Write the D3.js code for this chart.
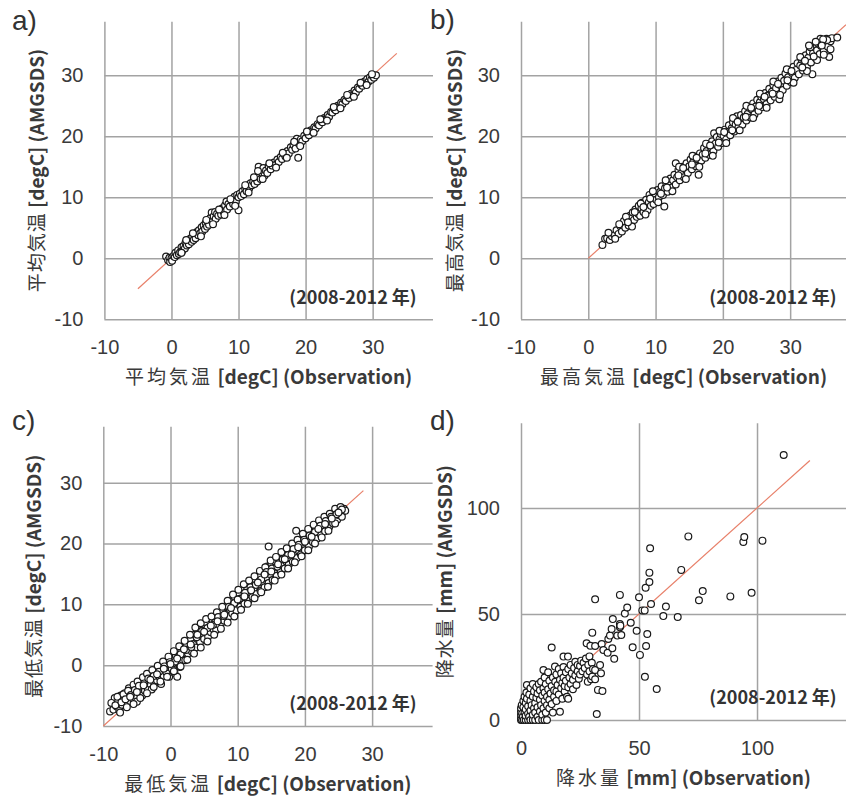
<!DOCTYPE html>
<html>
<head>
<meta charset="utf-8">
<script src="https://cdn.jsdelivr.net/npm/d3@7"></script>
<style>
  body { margin: 0; background: #fff; }
  svg { display: block; }
</style>
</head>
<body>
<svg id="chart" width="846" height="796"></svg>
<script>
// a) mean temperature [obs, model]
const meanPts = [
  [-0.8,0.3],[-0.5,-0.3],[-0.3,0.1],[-0.2,-0.6],[0,0],[0.1,-0.4],[0.3,0.4],[0.5,0.2],[0.6,0.9],[0.8,0.5],
  [1.0,1.3],[1.1,0.7],[1.3,1.0],[1.5,1.8],[1.6,1.2],[1.8,2.0],[2.0,1.6],[2.1,2.6],[2.3,2.1],[2.5,2.9],
  [2.6,2.3],[2.8,3.2],[3.0,2.7],[3.1,3.5],[3.3,3.0],[3.5,4.0],[3.6,3.3],[3.8,4.3],[4.0,3.8],[4.1,4.6],
  [4.3,4.1],[4.5,5.1],[4.6,4.4],[4.8,5.4],[5.0,4.8],[5.1,5.8],[5.3,5.2],[5.5,6.2],[5.6,5.5],[5.8,6.6],
  [6.0,7.5],[6.1,6.0],[6.3,6.9],[6.5,7.6],[6.6,6.5],[6.8,7.3],[7.0,7.0],[7.2,7.8],[7.4,7.2],[7.6,8.2],
  [7.8,7.6],[8.0,8.7],[8.2,9.3],[8.3,8.0],[8.5,8.9],[8.7,8.5],[9.0,9.4],[9.2,8.9],[9.4,10.1],[9.6,9.3],
  [9.8,10.4],[10.0,7.9],[10.0,10.0],[10.2,10.6],[10.4,10.2],[10.6,11.0],[10.8,10.5],[11.0,11.4],[11.2,11.0],[11.4,12.0],
  [11.6,11.5],[11.8,12.3],[12.0,12.0],[12.2,12.6],[12.4,12.2],[12.6,13.1],[12.8,12.6],[13.0,15.0],[13.1,13.4],[13.3,13.0],
  [13.5,14.0],[13.7,14.8],[13.9,13.6],[14.1,14.4],[14.3,14.0],[14.5,15.1],[14.8,14.6],[15.0,15.2],[15.3,15.7],[15.5,15.3],
  [15.8,16.2],[16.0,15.8],[16.3,16.6],[16.5,16.3],[16.8,17.1],[17.0,16.7],[17.3,17.6],[17.5,17.2],[17.8,18.2],[18.0,17.8],
  [18.2,18.6],[18.5,18.0],[18.7,19.6],[18.9,16.5],[19.0,18.8],[19.3,19.5],[19.5,19.2],[19.8,20.1],[20.0,19.7],[20.3,20.5],
  [20.5,20.2],[20.8,21.0],[21.0,20.8],[21.3,21.5],[21.5,21.3],[21.8,22.0],[22.0,21.8],[22.3,22.5],[22.5,22.3],[22.8,23.0],
  [23.0,22.8],[23.3,23.5],[23.5,23.2],[23.8,24.0],[24.0,23.9],[24.3,24.5],[24.5,24.3],[24.8,25.0],[25.0,24.8],[25.3,25.5],
  [25.5,25.3],[25.8,26.0],[26.0,25.8],[26.3,26.5],[26.5,26.3],[26.8,27.0],[27.0,26.8],[27.3,27.5],[27.5,27.2],[27.8,28.0],
  [28.0,27.8],[28.3,28.5],[28.5,28.3],[28.8,29.0],[29.0,28.7],[29.2,29.4],[29.4,29.0],[29.6,29.7],[29.8,29.3],[30.0,29.9],
  [30.2,29.6],[30.5,30.0],
  [1.5,0.9],[2.2,3.0],[3.2,4.1],[4.4,3.6],[5.2,6.3],[6.2,5.6],[7.1,8.0],[7.9,7.1],[8.8,9.7],[9.5,8.6],
  [11.0,12.0],[11.5,10.8],[12.3,13.3],[12.9,14.3],[13.6,13.0],[14.6,15.6],[15.6,14.9],[16.6,17.3],[17.2,16.5],[18.3,19.1],
  [19.2,18.4],[20.2,20.8],[21.2,20.6],[22.2,22.8],[23.2,22.6],[24.2,24.8],[25.2,24.6],[26.2,26.8],[27.2,26.5],[28.2,28.8],
  [29.1,28.4],[29.9,30.2]
];

// b) maximum temperature [obs, model]
const maxPts = [
  [2.1,2.2],[2.5,3.2],[2.8,3.3],[3.2,3.0],[3.5,3.6],[3.9,3.8],[4.2,4.6],[4.5,4.0],[4.8,5.2],[5.0,4.4],
  [5.3,6.1],[5.5,5.0],[5.8,6.4],[6.0,5.4],[6.2,7.0],[6.4,5.9],[6.6,7.5],[6.8,6.3],[7.0,8.0],[7.2,6.8],
  [7.4,7.3],[7.5,8.6],[7.7,7.0],[7.9,8.2],[8.0,9.1],[8.2,7.6],[8.4,8.7],[8.6,9.6],[8.8,7.9],[9.0,9.2],
  [9.1,10.4],[9.3,8.6],[9.5,9.9],[9.7,8.9],[9.9,10.6],[10.1,9.6],[10.3,11.2],[10.5,10.0],[10.7,10.9],[10.9,11.8],
  [11.1,10.4],[11.3,8.5],[11.4,11.5],[11.6,12.3],[11.8,10.9],[12.0,12.0],[12.2,13.1],[12.4,11.6],[12.6,12.8],[12.8,13.7],
  [13.0,15.6],[13.0,12.1],[13.2,13.3],[13.4,14.5],[13.6,12.8],[13.8,13.9],[14.0,15.0],[14.2,13.3],[14.4,14.6],[14.6,15.6],
  [14.8,14.0],[15.0,15.1],[15.2,16.2],[15.4,14.6],[15.6,15.8],[15.8,16.7],[16.0,15.1],[16.2,16.3],[16.4,13.7],[16.6,17.2],
  [16.8,16.0],[17.0,17.0],[17.2,18.1],[17.4,16.5],[17.6,17.6],[17.8,18.7],[18.0,17.0],[18.2,18.2],[18.4,19.2],[18.6,17.6],
  [18.7,20.5],[18.9,18.8],[19.1,19.9],[19.3,18.3],[19.5,19.5],[19.7,20.4],[19.9,18.9],[20.1,20.1],[20.3,21.1],[20.5,19.5],
  [20.7,20.7],[20.9,21.8],[21.1,20.2],[21.3,21.3],[21.5,22.3],[21.7,20.8],[21.9,21.9],[22.1,23.3],[22.3,21.4],[22.5,22.6],
  [22.7,23.5],[22.9,21.9],[23.1,23.1],[23.3,24.1],[23.5,22.6],[23.7,23.7],[23.9,24.7],[24.1,23.1],[24.3,24.4],[24.5,25.4],
  [24.7,23.6],[24.9,24.9],[25.1,26.0],[25.3,24.2],[25.5,25.6],[25.7,26.5],[25.9,24.8],[26.1,26.1],[26.3,27.1],[26.5,25.3],
  [26.7,26.7],[26.9,27.8],[27.1,25.9],[27.3,27.3],[27.5,28.4],[27.7,26.5],[27.9,27.9],[28.1,29.0],[28.4,26.1],[28.5,28.4],
  [28.7,29.6],[28.9,27.6],[29.1,29.1],[29.3,30.3],[29.5,28.3],[29.7,29.7],[29.9,30.9],[30.1,28.9],[30.3,30.4],[30.5,31.4],
  [30.7,29.6],[30.9,30.9],[31.1,32.0],[31.3,30.2],[31.5,31.6],[31.7,32.6],[31.9,30.8],[32.1,32.3],[32.3,33.3],[32.5,31.4],
  [32.7,32.9],[32.9,33.9],[33.1,32.1],[33.3,30.2],[33.4,33.6],[33.6,34.6],[33.8,32.8],[34.0,34.1],[34.2,35.2],[34.4,33.5],
  [34.6,34.8],[34.8,35.6],[35.0,34.0],[35.2,35.4],[35.4,36.0],[35.6,34.7],[35.8,33.0],[36.0,35.6],[36.2,36.1],[37.0,36.2],
  [3.0,4.2],[4.0,3.2],[5.6,6.8],[6.5,5.2],[7.8,9.0],[8.5,7.2],[9.6,11.0],[10.4,9.2],[11.5,12.8],[12.5,11.0],
  [13.5,15.0],[14.5,13.0],[15.5,16.8],[16.5,15.0],[17.5,18.8],[18.5,16.8],[19.5,20.9],[20.5,18.9],[21.5,23.0],[22.5,21.0],
  [23.5,25.0],[24.5,23.0],[25.5,27.0],[26.5,24.7],[27.5,29.0],[28.5,26.8],[29.5,31.0],[30.5,28.8],[31.5,33.0],[32.5,30.7],
  [33.0,34.6],[34.0,32.5],[34.5,36.0],[35.0,33.4],[35.5,35.8],[36.0,34.3],[33.8,35.5],[34.9,35.9],[32.8,34.9],
  [4.6,5.6],[6.9,7.6],[9.2,9.8],[11.7,11.6],[14.1,14.8],[16.1,16.5],[18.1,18.5],[20.2,20.7],[22.2,22.4],[24.2,24.7],
  [26.2,26.5],[28.2,28.6],[30.2,30.7],[32.2,32.4],[33.5,33.1],[34.7,34.9],[31.8,31.3],[29.6,29.2],[27.4,27.0],[25.4,25.0],
  [23.4,23.2],[21.4,21.0],[19.4,19.0],[17.4,17.2],[15.4,15.4],[13.4,13.6],[10.8,10.6],[8.2,8.4],[5.9,5.9]
];

// c) minimum temperature [obs, model]
const minPts = [
  [-9.0,-7.6],[-8.5,-7.3],[-8.3,-5.4],[-8.0,-6.8],[-7.8,-6.0],[-7.6,-7.4],[-7.4,-5.0],[-7.2,-6.5],[-7.0,-5.7],[-6.8,-4.6],
  [-6.6,-6.3],[-6.4,-5.2],[-6.2,-3.8],[-6.0,-5.9],[-5.8,-4.5],[-5.6,-5.5],[-5.4,-3.6],[-5.2,-4.9],[-5.0,-6.0],[-4.8,-3.9],
  [-4.6,-4.6],[-4.4,-2.9],[-4.2,-5.0],[-4.0,-3.5],[-3.8,-4.2],[-3.6,-2.6],[-3.4,-3.8],[-3.2,-1.6],[-3.0,-3.1],[-2.8,-4.0],
  [-2.6,-2.2],[-2.4,-3.0],[-2.2,-1.4],[-2.0,-2.5],[-1.8,-0.9],[-1.6,-2.0],[-1.4,-3.1],[-1.2,-1.0],[-1.0,-1.8],[-0.8,0.2],
  [-0.6,-1.2],[-0.4,-0.3],[-0.2,-1.9],[0.0,0.9],[0.2,-0.6],[0.4,0.3],[0.6,-1.3],[0.8,1.6],[1.0,-1.9],[1.0,0.5],
  [1.2,1.2],[1.4,-0.3],[1.6,2.3],[1.8,0.9],[2.0,2.0],[2.2,0.8],[2.4,3.2],[2.6,1.9],[2.8,2.7],[3.0,4.3],
  [3.2,2.2],[3.4,3.5],[3.6,5.0],[3.8,2.9],[4.0,4.3],[4.2,6.0],[4.4,3.8],[4.6,5.0],[4.8,6.6],[5.0,4.3],
  [5.2,5.6],[5.4,6.9],[5.6,4.7],[5.8,6.3],[6.0,5.4],[6.2,7.5],[6.4,5.9],[6.6,7.0],[6.8,5.8],[7.0,7.8],
  [7.2,6.7],[7.4,8.4],[7.6,7.0],[7.8,8.9],[8.0,7.3],[8.2,8.4],[8.4,9.8],[8.6,7.9],[8.8,9.2],[9.0,10.5],
  [9.2,8.5],[9.4,9.8],[9.6,11.1],[9.8,9.0],[10.0,10.3],[10.2,11.7],[10.4,9.6],[10.6,11.0],[10.8,12.3],[11.0,10.1],
  [11.2,11.5],[11.4,12.8],[11.6,10.6],[11.8,12.0],[12.0,13.2],[12.2,11.2],[12.4,12.6],[12.6,13.8],[12.8,11.7],[13.0,13.1],
  [13.2,14.6],[13.4,12.2],[13.6,13.7],[13.8,15.4],[14.0,12.8],[14.2,14.4],[14.4,16.2],[14.6,19.5],[14.6,13.5],[14.8,15.0],
  [15.0,16.7],[15.2,14.0],[15.4,15.5],[15.6,17.0],[15.8,14.7],[16.0,16.1],[16.2,17.5],[16.4,15.3],[16.6,16.6],[16.8,18.0],
  [17.0,15.9],[17.2,17.1],[17.4,18.4],[17.6,16.5],[17.8,17.7],[18.0,19.0],[18.2,17.0],[18.4,18.3],[18.6,19.6],[18.7,22.1],
  [18.8,17.6],[19.0,18.9],[19.2,20.3],[19.4,18.2],[19.6,19.5],[19.8,21.0],[20.0,18.9],[20.2,20.1],[20.4,21.5],[20.6,19.5],
  [20.8,20.7],[21.0,22.1],[21.2,20.2],[21.4,21.3],[21.6,22.6],[21.8,20.8],[22.0,21.9],[22.2,23.1],[22.4,21.4],[22.6,22.5],
  [22.8,23.6],[23.0,22.0],[23.2,23.1],[23.4,24.1],[23.6,22.7],[23.8,23.6],[24.0,24.9],[24.2,23.3],[24.4,24.2],[24.6,25.1],
  [24.8,23.9],[25.0,24.7],[25.2,25.5],[25.4,24.6],[25.6,25.2],[25.8,25.7],[26.0,25.4],
  [-8.8,-6.2],[-7.9,-5.2],[-7.0,-4.8],[-6.3,-4.2],[-5.5,-3.2],[-4.9,-2.7],[-4.1,-2.0],[-3.5,-1.4],[-2.7,-0.8],[-1.9,-0.1],
  [-1.1,0.6],[-0.3,1.4],[0.5,2.3],[1.3,3.1],[2.1,4.0],[2.9,5.0],[3.7,6.2],[4.5,6.9],[5.3,7.6],[6.1,8.0],
  [6.9,8.7],[7.7,9.6],[8.5,10.6],[9.3,11.6],[10.1,12.4],[10.9,13.3],[11.7,13.9],[12.5,14.6],[13.3,15.5],[14.1,16.1],
  [14.9,17.2],[15.7,17.8],[16.5,18.6],[17.3,19.2],[18.1,20.0],[18.9,20.6],[19.7,21.6],[20.5,22.4],[21.3,23.1],[22.1,23.8],
  [22.9,24.4],[23.7,24.9],[24.5,25.7],[25.3,26.0],
  [-7.5,-7.8],[-6.5,-6.9],[-5.5,-6.4],[-4.5,-5.4],[-3.5,-4.6],[-2.5,-3.6],[-1.5,-2.7],[-0.5,-1.9],[0.5,-1.0],[1.5,-0.2],
  [2.5,0.9],[3.5,1.9],[4.5,2.9],[5.5,3.9],[6.5,5.0],[7.5,6.0],[8.5,7.0],[9.5,8.0],[10.5,9.1],[11.5,10.1],
  [12.5,11.0],[13.5,12.0],[14.5,12.9],[15.5,13.9],[16.5,14.9],[17.5,15.9],[18.5,16.9],[19.5,17.9],[20.5,18.9],[21.5,20.0],
  [22.5,21.0],[23.5,22.1],[24.5,23.3],[25.5,24.4],
  [-8.2,-6.6],[-7.3,-6.1],[-6.7,-5.6],[-5.9,-4.9],[-5.3,-4.1],[-4.7,-3.4],[-3.9,-3.0],[-3.3,-2.2],[-2.5,-1.8],[-1.7,-1.1],
  [-0.9,-0.2],[-0.1,0.5],[0.7,0.6],[1.5,1.8],[2.3,2.5],[3.1,3.0],[3.9,4.6],[4.7,5.6],[5.5,6.1],[6.3,6.6],
  [7.1,7.9],[7.9,8.1],[8.7,9.6],[9.5,10.2],[10.3,10.9],[11.1,11.9],[11.9,12.8],[12.7,13.2],[13.5,14.1],[14.3,15.3],
  [15.1,15.9],[15.9,16.2],[16.7,17.4],[17.5,18.1],[18.3,19.1],[19.1,19.8],[19.9,20.6],[20.7,21.3],[21.5,21.9],[22.3,22.9],
  [23.1,23.7],[23.9,24.4],[24.7,24.8],[25.5,25.6],
  [-6.0,-5.2],[-5.0,-4.4],[-4.0,-3.3],[-3.0,-2.4],[-2.0,-1.5],[-1.0,-0.6],[0.0,0.2],[1.0,1.1],[2.0,2.6],[3.0,3.4],
  [4.0,5.0],[5.0,5.5],[6.0,6.5],[7.0,7.2],[8.0,8.3],[9.0,9.4],[10.0,10.8],[11.0,11.3],[12.0,12.3],[13.0,13.6],
  [14.0,14.9],[15.0,15.4],[16.0,16.6],[17.0,17.4],[18.0,18.2],[19.0,19.4],[20.0,20.3],[21.0,21.1],[22.0,22.4],[23.0,23.2],
  [24.0,24.1],[25.0,25.1]
];

// d) precipitation [obs, model]
const rainPts = [
  [0,0],[0,1],[0,2.5],[0,4],[0,5.5],[0.3,7],[0.5,3],[0.5,0],[0.8,1.5],[1,9],[1,6],[1.2,0],[1.5,3.5],[1.5,11],
  [2,0],[2,2],[2,5],[2,8],[2.3,13],[2.5,16.5],[2.5,10],[3,0],[3,3],[3,6.5],[3.5,12],[3.5,1.5],[4,0],[4,4.5],
  [4,9],[4,15],[4.5,7],[5,0],[5,2.5],[5,11],[5,17],[5.5,5.5],[5.5,13.5],[6,0],[6,8],[6,3.5],[6.5,15.5],[6.5,10.5],
  [7,1.5],[7,6],[7,12.5],[7.5,17],[7.5,0],[8,4],[8,9.5],[8,14],[8.5,7],[8.5,18],[9,0],[9,11.5],[9,2.5],[9.5,15],
  [9.5,5.5],[9.5,23.6],[10,0],[10,9],[10,13],[10,20],[10.5,3.5],[10.5,17],[11,0],[11,7],[11,11],[11.5,14.5],[11.5,22.5],
  [12,5.5],[12,9.5],[12,18.5],[12.5,12.5],[13,16],[13,7.5],[13,34.2],[13.5,20],[13.5,3.5],[14,11],[14,14],[14.4,25.2],
  [14.5,18],[15,9],[15,21.5],[15,13.5],[15.5,16.5],[16,12],[16,24],[16.5,19],[16.5,3.9],[17,15],[17,22],[17.5,10],
  [17.5,17.5],[18,20],[18,25],[18,29.9],[18.5,13.5],[18.5,16],[19,22.5],[19,18.5],[19.9,29.9],[19.5,11],[20,24],
  [20,15.5],[20,10],[20.5,20],[21,17],[21,26],[21.5,22],[22,14.5],[22,19],[22.5,24.5],[23,21],[23,27.5],[23.5,16.5],
  [24,23],[24,26],[24.5,19.5],[25,25.5],[25,21.5],[25.5,28],[26,23],[26.5,27],[27,24.5],[27.5,29],[27.8,36.2],
  [28,21.5],[28.3,18.1],[28.5,26],[29,23],[29,30],[29.4,35],[29.7,19.2],[30,27],[30.2,20.5],[30.2,41.2],[30.5,24],
  [31.4,23.6],[31.4,19.2],[31.4,34.9],[31.4,56.9],[32.1,2.8],[32.6,14.2],[33.5,25.9],[33.9,22],[34.2,35.8],[34.5,13.7],
  [34.9,33],[36.7,31.7],[37,38.2],[37.7,39.8],[38.4,42.9],[38.7,33.8],[38.9,47.6],[39.5,28.9],[40.8,39.8],[41.9,45.3],
  [41.9,43.7],[41.9,59],[42.1,44.5],[42.5,40.1],[44,50.2],[45,53.1],[46.5,45.9],[47.3,34.3],[49,42.1],[50,57.9],
  [50.4,30.7],[51.4,51.7],[52.4,51.7],[52.5,20.4],[52.8,62.4],[53,34.9],[53.5,40.6],[54.4,65.1],[54.4,69.5],[54.7,81],
  [55.1,54.7],[57.5,14.6],[60.3,49],[61.4,53.5],[66.4,48.6],[67.9,70.8],[70.9,86.6],[75.4,56.5],[77,60.8],[88.7,58.3],
  [94.2,84],[94.6,86.3],[97.7,60],[102.3,84.6],[111.3,125]
];

// 1:1 reference line extents, per panel
const meanDiag = [-5, 33.6];
const maxDiag = [0, 38.3];
const minDiag = [-10, 28.7];
const rainDiag = [0, 122.4];

const tempTicks = [-10, 0, 10, 20, 30];
const rainTicks = [0, 50, 100];
const periodLabel = "(2008-2012 年)";

const panels = [
  { tag: "a)", pts: meanPts, diag: meanDiag, ticks: tempTicks,
    xDom: [-10, 39], yDom: [-10, 38.8], box: { l: 104.4, r: 433, t: 21.7, b: 319.3 },
    name: "平均気温", unit: " [degC]", ytOff: 67, tagPos: [12, 30], yearRight: 416.7 },
  { tag: "b)", pts: maxPts, diag: maxDiag, ticks: tempTicks,
    xDom: [-10, 38.3], yDom: [-10, 38.8], box: { l: 521, r: 846, t: 21.7, b: 319.3 },
    name: "最高気温", unit: " [degC]", ytOff: 66, tagPos: [430, 29], yearRight: 836.7 },
  { tag: "c)", pts: minPts, diag: minDiag, ticks: tempTicks,
    xDom: [-10, 39], yDom: [-10, 39.2], box: { l: 103.3, r: 432.6, t: 426.7, b: 726 },
    name: "最低気温", unit: " [degC]", ytOff: 69, tagPos: [12, 430], yearRight: 416.7 },
  { tag: "d)", pts: rainPts, diag: rainDiag, ticks: rainTicks,
    xDom: [0, 137.7], yDom: [0, 140], box: { l: 521, r: 846, t: 423.2, b: 720 },
    name: "降水量", unit: " [mm]", ytOff: 76, tagPos: [430, 430], yearRight: 836.7 }
];

const svg = d3.select("#chart");
svg.append("rect").attr("width", 846).attr("height", 796).attr("fill", "#fff");

const tickFont = "'Liberation Sans', Arial, sans-serif";
const jpFont = "'Noto Sans CJK JP', 'Noto Sans', sans-serif";

panels.forEach(p => {
  const x = d3.scaleLinear().domain(p.xDom).range([p.box.l, p.box.r]);
  const y = d3.scaleLinear().domain(p.yDom).range([p.box.b, p.box.t]);
  const w = p.box.r - p.box.l, h = p.box.b - p.box.t;
  const g = svg.append("g");

  // gridlines + tick labels (plain hyphen for negatives, like the original)
  const fmt = d => String(d);
  const xAxis = g.append("g").attr("transform", `translate(0,${p.box.b})`)
    .call(d3.axisBottom(x).tickValues(p.ticks).tickFormat(fmt).tickSize(-h).tickSizeOuter(0).tickPadding(21));
  const yAxis = g.append("g").attr("transform", `translate(${p.box.l},0)`)
    .call(d3.axisLeft(y).tickValues(p.ticks).tickFormat(fmt).tickSize(-w).tickSizeOuter(0).tickPadding(21));
  [xAxis, yAxis].forEach(ax => {
    ax.select(".domain").remove();
    ax.selectAll(".tick line").attr("stroke", "#a3a3a3").attr("stroke-width", 1.5);
    ax.selectAll(".tick text").attr("fill", "#3a3a3a")
      .style("font-family", tickFont).style("font-size", "20px");
  });

  // 1:1 line
  g.append("path")
    .datum(p.diag)
    .attr("d", d3.line().x(v => x(v)).y(v => y(v)))
    .attr("stroke", "#e8806a").attr("stroke-width", 1.2).attr("fill", "none");

  // points
  g.append("g").selectAll("circle")
    .data(p.pts)
    .join("circle")
    .attr("cx", d => x(d[0]))
    .attr("cy", d => y(d[1]))
    .attr("r", 3.4)
    .attr("fill", "#fff")
    .attr("stroke", "#1a1a1a")
    .attr("stroke-width", 1.2);

  // x title
  const xt = g.append("text")
    .attr("x", (p.box.l + p.box.r) / 2).attr("y", p.box.b + 58).attr("dy", "0.35em")
    .attr("text-anchor", "middle").attr("fill", "#3a3a3a")
    .style("font-family", jpFont).style("font-size", "19px");
  xt.append("tspan").attr("letter-spacing", "3px").text(p.name);
  xt.append("tspan").attr("font-weight", "bold").text(p.unit + " (Observation)");

  // y title
  const cy = (p.box.t + p.box.b) / 2, cx = p.box.l - p.ytOff;
  const yt = g.append("text")
    .attr("transform", `translate(${cx},${cy}) rotate(-90)`).attr("dy", "0.35em")
    .attr("text-anchor", "middle").attr("fill", "#3a3a3a")
    .style("font-family", jpFont).style("font-size", "19px");
  yt.append("tspan").attr("letter-spacing", "1px").text(p.name);
  yt.append("tspan").attr("font-weight", "bold").text(p.unit + " (AMGSDS)");

  // period label
  g.append("text")
    .attr("x", p.yearRight).attr("y", p.box.b - 22).attr("dy", "0.35em")
    .attr("text-anchor", "end").attr("fill", "#333")
    .style("font-family", jpFont).style("font-size", "18px").style("font-weight", "bold")
    .text(periodLabel);

  // panel tag
  g.append("text")
    .attr("x", p.tagPos[0]).attr("y", p.tagPos[1])
    .attr("fill", "#333")
    .style("font-family", tickFont).style("font-size", "28px")
    .text(p.tag);
});
</script>
</body>
</html>
